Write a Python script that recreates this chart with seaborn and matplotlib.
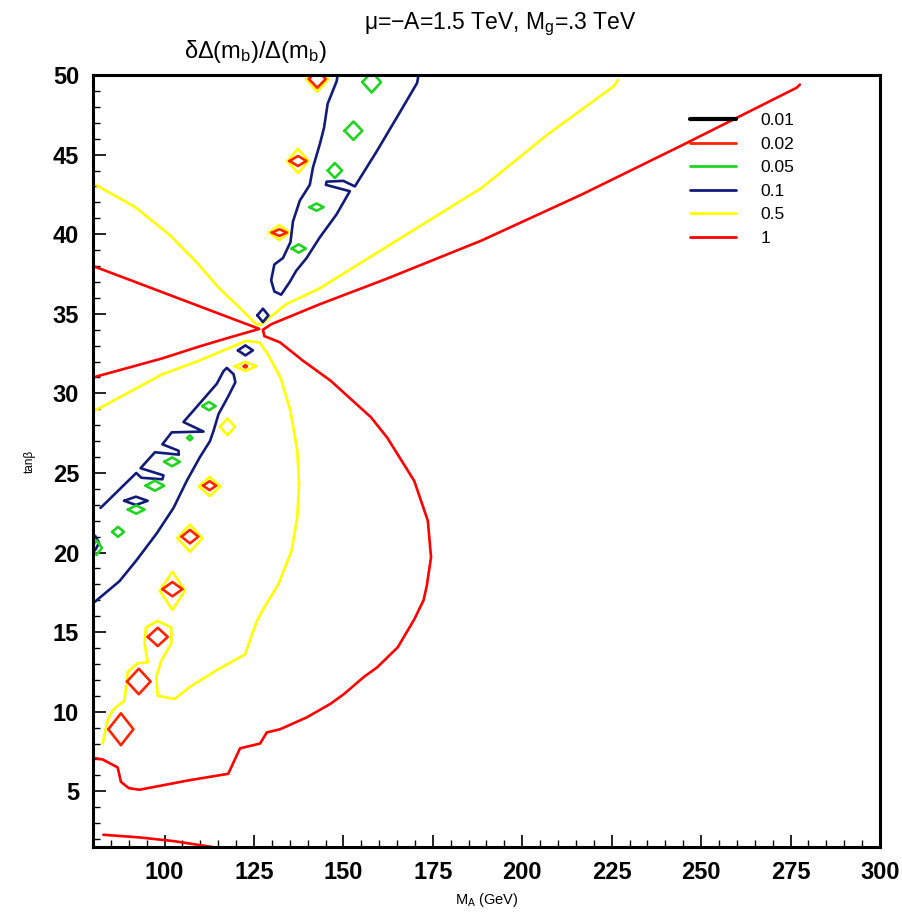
import numpy as np
import pandas as pd
import matplotlib
matplotlib.use("Agg")
import matplotlib.pyplot as plt
from matplotlib.lines import Line2D
from matplotlib.ticker import MultipleLocator
import seaborn as sns

# Contour levels of dDelta(m_b)/Delta(m_b) and their line colours
levels = ["0.01", "0.02", "0.05", "0.1", "0.5", "1"]
level_colors = ["#000000", "#ff2400", "#1fd41f", "#121c78", "#ffff00", "#ff0000"]

# ---- open contour pieces: M_A (GeV) and tan(beta) ----
# level 1: left wedge (upper-left arm joined to lower-left arm)
c1_wedge_x = [80.0, 91.8, 105.9, 115.3, 126.5, 118.0, 109.8, 99.4, 80.0]
c1_wedge_y = [38.0, 37.0, 35.8, 35.0, 34.05, 33.5, 32.95, 32.2, 31.0]
# level 1: upper-right arm running into the big arc
c1_arc_x = [277.6, 276.7, 244.8, 216.7, 188.6, 162.1, 143.4, 129.9, 127.5, 127.9,
            132.3, 138.7, 146.4, 157.7, 162.3, 169.8, 173.6, 174.5, 173.3, 172.4,
            169.8, 165.2, 159.5, 155.8, 150.1, 146.4, 139.8, 132.3, 128.6, 126.7,
            121.1, 117.8, 107.0, 93.0, 90.0, 87.8, 86.9, 82.7, 80.0]
c1_arc_y = [49.4, 49.2, 45.6, 42.5, 39.6, 37.2, 35.6, 34.35, 34.0, 33.6,
            33.2, 32.05, 30.8, 28.5, 27.2, 24.5, 22.0, 19.7, 17.9, 17.0,
            15.8, 14.05, 12.8, 12.2, 11.1, 10.5, 9.65, 8.9, 8.7, 8.0,
            7.7, 6.1, 5.7, 5.1, 5.2, 5.6, 6.5, 7.0, 7.1]
# level 1: low tan(beta) piece
c1_low_x = [82.9, 93.2, 102.6, 113.4]
c1_low_y = [2.27, 2.1, 1.87, 1.5]

# level 0.5: upper V
c05_v_x = [80.0, 91.8, 101.2, 108.7, 115.3, 120.9, 125.6, 126.8, 134.0, 143.4,
           162.0, 188.6, 207.3, 225.6, 226.8]
c05_v_y = [43.2, 41.7, 40.0, 38.3, 36.6, 35.4, 34.35, 34.3, 35.6, 36.6,
           39.2, 42.9, 46.3, 49.3, 49.7]
# level 0.5: lower arch
c05_arch_x = [80.0, 99.4, 109.6, 116.5, 122.8, 126.5, 128.8, 132.4, 135.2, 137.1,
              137.6, 137.1, 135.5, 131.8, 128.0, 125.8, 122.5, 114.5, 107.0, 102.8,
              98.1, 97.7, 99.1, 101.9, 101.9, 98.1, 94.8, 94.4, 95.3, 92.5,
              89.7, 88.8, 85.5, 84.1, 82.7]
c05_arch_y = [28.85, 31.2, 32.05, 32.7, 33.3, 33.2, 32.5, 31.0, 28.9, 26.4,
              24.3, 22.2, 20.1, 18.0, 16.6, 15.7, 13.6, 12.6, 11.55, 10.8,
              11.0, 12.2, 13.2, 14.3, 15.3, 15.7, 15.3, 14.3, 13.1, 13.05,
              12.5, 10.7, 10.1, 9.45, 8.0]

# level 0.1: upper band (closed by the top edge)
c01_up_x = [148.4, 148.1, 145.6, 144.6, 143.4, 141.5, 140.6, 137.8, 135.9, 135.2,
            133.1, 130.7, 129.8, 130.7, 132.6, 135.0, 136.8, 139.7, 143.4, 148.1,
            151.8, 145.1, 145.3, 150.0, 153.2, 159.3, 165.9, 170.6, 171.0]
c01_up_y = [50.0, 49.6, 48.2, 46.7, 45.65, 44.2, 43.1, 42.1, 40.8, 39.5,
            38.5, 38.1, 37.1, 36.4, 36.2, 37.0, 37.7, 38.5, 39.8, 41.25,
            42.7, 43.1, 43.3, 43.35, 43.0, 45.2, 47.7, 49.5, 50.0]
# level 0.1: lower stepped band
c01_low_x = [82.1, 92.1, 93.5, 99.4, 99.7, 93.3, 97.3, 104.0, 103.9, 99.4,
             102.0, 110.9, 105.3, 114.6, 116.5, 117.4, 119.3, 119.8, 117.9, 115.1,
             113.7, 112.7, 109.9, 106.2, 102.5, 97.8, 92.1, 87.4, 80.5]
c01_low_y = [22.8, 25.0, 24.7, 24.6, 24.85, 25.3, 26.3, 26.15, 26.4, 26.8,
             27.55, 27.6, 28.2, 30.6, 31.4, 31.6, 31.2, 30.7, 29.85, 28.7,
             27.65, 27.0, 26.0, 24.5, 22.8, 21.2, 19.5, 18.2, 16.9]

pieces = [
    ("1", c1_wedge_x, c1_wedge_y),
    ("1", c1_arc_x, c1_arc_y),
    ("1", c1_low_x, c1_low_y),
    ("0.5", c05_v_x, c05_v_y),
    ("0.5", c05_arch_x, c05_arch_y),
    ("0.1", c01_up_x, c01_up_y),
    ("0.1", c01_low_x, c01_low_y),
]

# ---- small closed islands: level, centre (M_A, tan beta), full width, full height ----
island_level = (["0.02"] * 10 + ["0.5"] * 8 + ["0.05"] * 12 + ["0.1"] * 4)
island_x = [87.8, 92.8, 98.1, 102.2, 107.1, 112.6, 122.6, 132.1, 137.3, 142.7,
            102.2, 107.1, 112.6, 117.6, 122.6, 132.1, 137.3, 142.7,
            157.9, 152.8, 147.6, 142.5, 137.5, 112.4, 107.1, 102.1, 97.3, 92.1, 87.0, 81.0,
            122.6, 127.5, 92.0, 80.6]
island_y = [8.9, 11.9, 14.7, 17.7, 21.0, 24.2, 31.7, 40.1, 44.6, 49.75,
            17.6, 20.9, 24.15, 27.9, 31.7, 40.1, 44.6, 49.75,
            49.55, 46.5, 44.0, 41.7, 39.1, 29.2, 27.2, 25.7, 24.2, 22.7, 21.3, 20.3,
            32.7, 34.9, 23.25, 20.6]
island_w = [7.0, 6.6, 5.6, 5.6, 4.7, 3.7, 0.9, 4.2, 4.7, 4.7,
            7.0, 7.0, 6.0, 4.2, 6.1, 5.8, 5.9, 6.2,
            5.2, 5.0, 4.0, 3.9, 4.0, 3.75, 1.4, 4.4, 5.2, 4.7, 3.3, 3.0,
            4.2, 3.1, 6.6, 2.2]
island_h = [2.0, 1.6, 1.15, 0.9, 0.85, 0.56, 0.15, 0.42, 0.63, 1.1,
            2.4, 1.7, 1.2, 1.05, 0.56, 0.94, 1.5, 1.6,
            1.3, 1.15, 0.94, 0.46, 0.52, 0.52, 0.3, 0.55, 0.63, 0.52, 0.63, 0.9,
            0.63, 0.84, 0.52, 0.9]

# Long-form table: one row per vertex, one unit per contour piece
rows = []
uid = 0
for lev, xs, ys in pieces:
    for xv, yv in zip(xs, ys):
        rows.append((uid, lev, xv, yv))
    uid += 1
for lev, cx, cy, w, h in zip(island_level, island_x, island_y, island_w, island_h):
    hx, hy = w / 2.0, h / 2.0
    ring = [(cx - hx, cy), (cx, cy + hy), (cx + hx, cy), (cx, cy - hy), (cx - hx, cy)]
    for xv, yv in ring:
        rows.append((uid, lev, xv, yv))
    uid += 1
df = pd.DataFrame(rows, columns=["piece", "level", "MA", "tanb"])

sns.set_theme(style="white")
plt.rcParams["font.family"] = ["Liberation Sans", "DejaVu Sans"]
plt.rcParams["mathtext.fontset"] = "custom"
plt.rcParams["mathtext.rm"] = "Liberation Sans"
plt.rcParams["mathtext.it"] = "Liberation Sans:italic"
plt.rcParams["text.color"] = "black"
plt.rcParams["axes.labelcolor"] = "black"
plt.rcParams["xtick.color"] = "black"
plt.rcParams["ytick.color"] = "black"

palette = dict(zip(levels, level_colors))

fig = plt.figure(figsize=(9.02, 9.17), dpi=100)
ax = fig.add_axes([0.1031, 0.0763, 0.8725, 0.8419])

sns.lineplot(data=df, x="MA", y="tanb", hue="level", units="piece",
             estimator=None, sort=False, palette=palette, linewidth=1.9,
             legend=False, ax=ax)

ax.set_xlim(80, 300)
ax.set_ylim(1.5, 50)
ax.xaxis.set_major_locator(MultipleLocator(25))
ax.xaxis.set_minor_locator(MultipleLocator(5))
ax.yaxis.set_major_locator(MultipleLocator(5))
ax.yaxis.set_minor_locator(MultipleLocator(1))
ax.set_xticks(np.arange(100, 301, 25))
ax.set_yticks(np.arange(5, 51, 5))
ax.tick_params(which="both", direction="in", top=False, right=False,
               bottom=True, left=True, colors="black")
ax.tick_params(which="major", length=9, width=1.2, labelsize=17, pad=10)
ax.tick_params(which="minor", length=5, width=1.0)
for lab in ax.get_xticklabels() + ax.get_yticklabels():
    lab.set_fontweight("bold")
for sp in ax.spines.values():
    sp.set_linewidth(2.2)
    sp.set_color("black")

ax.set_xlabel("M$_{\\rm A}$ (GeV)", fontsize=10.5, labelpad=5)
ax.set_ylabel("tanβ", fontsize=8.5, labelpad=12)

fig.text(0.283, 0.944, "δΔ(m$_{\\rm b}$)/Δ(m$_{\\rm b}$)",
         fontsize=17, ha="center", va="center")
fig.text(0.555, 0.973, "μ=−A=1.5 TeV, M$_{\\rm g}$=.3 TeV",
         fontsize=16.5, ha="center", va="center")

handles = [Line2D([0], [0], color=c, lw=(3.0 if lev == "0.01" else 2.0))
           for lev, c in zip(levels, level_colors)]
ax.legend(handles, levels, loc="upper left", bbox_to_anchor=(0.747, 0.962),
          frameon=False, fontsize=12.5, handlelength=2.7, handletextpad=1.4,
          labelspacing=0.48, borderpad=0)

fig.savefig("out.png", dpi=100, facecolor="white")
